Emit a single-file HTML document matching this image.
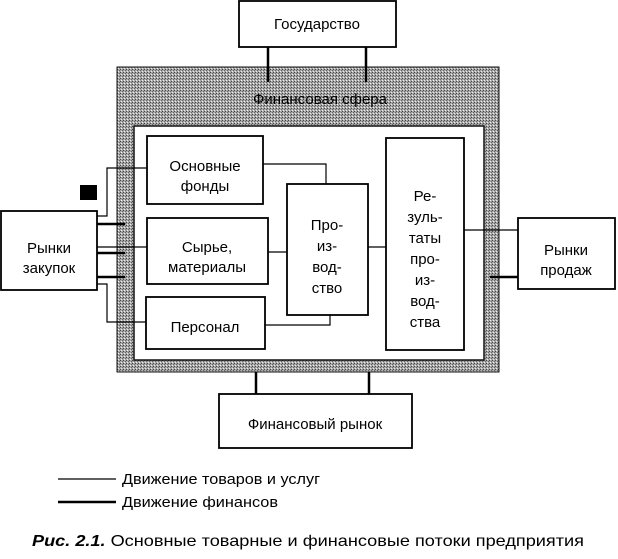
<!DOCTYPE html>
<html><head><meta charset="utf-8"><style>
html,body{margin:0;padding:0;background:#fff;width:618px;height:559px;overflow:hidden}
svg text{font-family:"Liberation Sans",sans-serif;font-size:15px;fill:#000}
</style></head><body>
<svg width="618" height="559" xmlns="http://www.w3.org/2000/svg">
<defs><pattern id="g" width="3" height="3" patternUnits="userSpaceOnUse"><rect width="3" height="3" fill="#a8a8a8"/><rect width="1" height="1" fill="#444"/><rect x="2" y="1" width="1" height="1" fill="#666"/><rect x="1" y="2" width="1" height="1" fill="#eee"/></pattern></defs>
<rect x="117" y="67" width="382" height="305" fill="url(#g)" stroke="#111"/>
<rect x="134" y="126" width="350" height="234" fill="#fff" stroke="#111" stroke-width="1.5"/>
<text x="320" y="104" text-anchor="middle">Финансовая сфера</text>
<g fill="#fff" stroke="#000" stroke-width="1.8">
<rect x="239" y="1" width="157" height="46"/>
<rect x="147" y="136" width="116" height="68"/>
<rect x="147" y="218" width="121" height="66"/>
<rect x="146" y="297" width="119" height="52"/>
<rect x="287" y="184" width="81" height="131"/>
<rect x="386" y="138" width="78" height="212"/>
<rect x="1" y="211" width="96" height="79"/>
<rect x="518" y="218" width="97" height="71"/>
<rect x="219" y="394" width="193" height="54"/>
</g>
<rect x="80" y="185" width="17" height="15" fill="#000"/>
<g stroke="#000" fill="none" stroke-width="1.2">
<polyline points="97,216 107,216 107,168 147,168"/>
<line x1="97" y1="247" x2="147" y2="247"/>
<polyline points="97,284 107,284 107,322 146,322"/>
<polyline points="263,164 326,164 326,184"/>
<line x1="268" y1="252" x2="287" y2="252"/>
<polyline points="265,325 330,325 330,315"/>
<line x1="368" y1="247" x2="386" y2="247"/>
<line x1="464" y1="230" x2="518" y2="230"/>
<line x1="58" y1="479" x2="116" y2="479"/>
</g>
<g stroke="#000" fill="none" stroke-width="2.5">
<line x1="268" y1="47" x2="268" y2="82"/>
<line x1="366" y1="47" x2="366" y2="82"/>
<line x1="97" y1="224" x2="125" y2="224"/>
<line x1="97" y1="253" x2="125" y2="253"/>
<line x1="97" y1="277" x2="125" y2="277"/>
<line x1="490" y1="277" x2="518" y2="277"/>
<line x1="256" y1="372" x2="256" y2="394"/>
<line x1="369" y1="372" x2="369" y2="394"/>
<line x1="58" y1="502" x2="116" y2="502"/>
</g>
<text x="317" y="29" text-anchor="middle">Государство</text>
<text x="205" y="171" text-anchor="middle">Основные</text>
<text x="205" y="191" text-anchor="middle">фонды</text>
<text x="207" y="252" text-anchor="middle">Сырье,</text>
<text x="207" y="272" text-anchor="middle">материалы</text>
<text x="205" y="332" text-anchor="middle">Персонал</text>
<text x="327" y="230" text-anchor="middle">Про-</text>
<text x="327" y="251" text-anchor="middle">из-</text>
<text x="327" y="272" text-anchor="middle">вод-</text>
<text x="327" y="293" text-anchor="middle">ство</text>
<text x="425" y="201" text-anchor="middle">Ре-</text>
<text x="425" y="222" text-anchor="middle">зуль-</text>
<text x="425" y="243" text-anchor="middle">таты</text>
<text x="425" y="264" text-anchor="middle">про-</text>
<text x="425" y="285" text-anchor="middle">из-</text>
<text x="425" y="306" text-anchor="middle">вод-</text>
<text x="425" y="327" text-anchor="middle">ства</text>
<text x="49" y="253" text-anchor="middle">Рынки</text>
<text x="49" y="273" text-anchor="middle">закупок</text>
<text x="566" y="255" text-anchor="middle">Рынки</text>
<text x="566" y="275" text-anchor="middle">продаж</text>
<text x="315" y="429" text-anchor="middle">Финансовый рынок</text>
<text x="122" y="484" textLength="198" lengthAdjust="spacingAndGlyphs">Движение товаров и услуг</text>
<text x="122" y="507" textLength="156" lengthAdjust="spacingAndGlyphs">Движение финансов</text>
<text x="32" y="546" style="font-size:16px" textLength="552" lengthAdjust="spacingAndGlyphs"><tspan font-weight="bold" font-style="italic">Рис. 2.1.</tspan> Основные товарные и финансовые потоки предприятия</text>
</svg>
</body></html>
